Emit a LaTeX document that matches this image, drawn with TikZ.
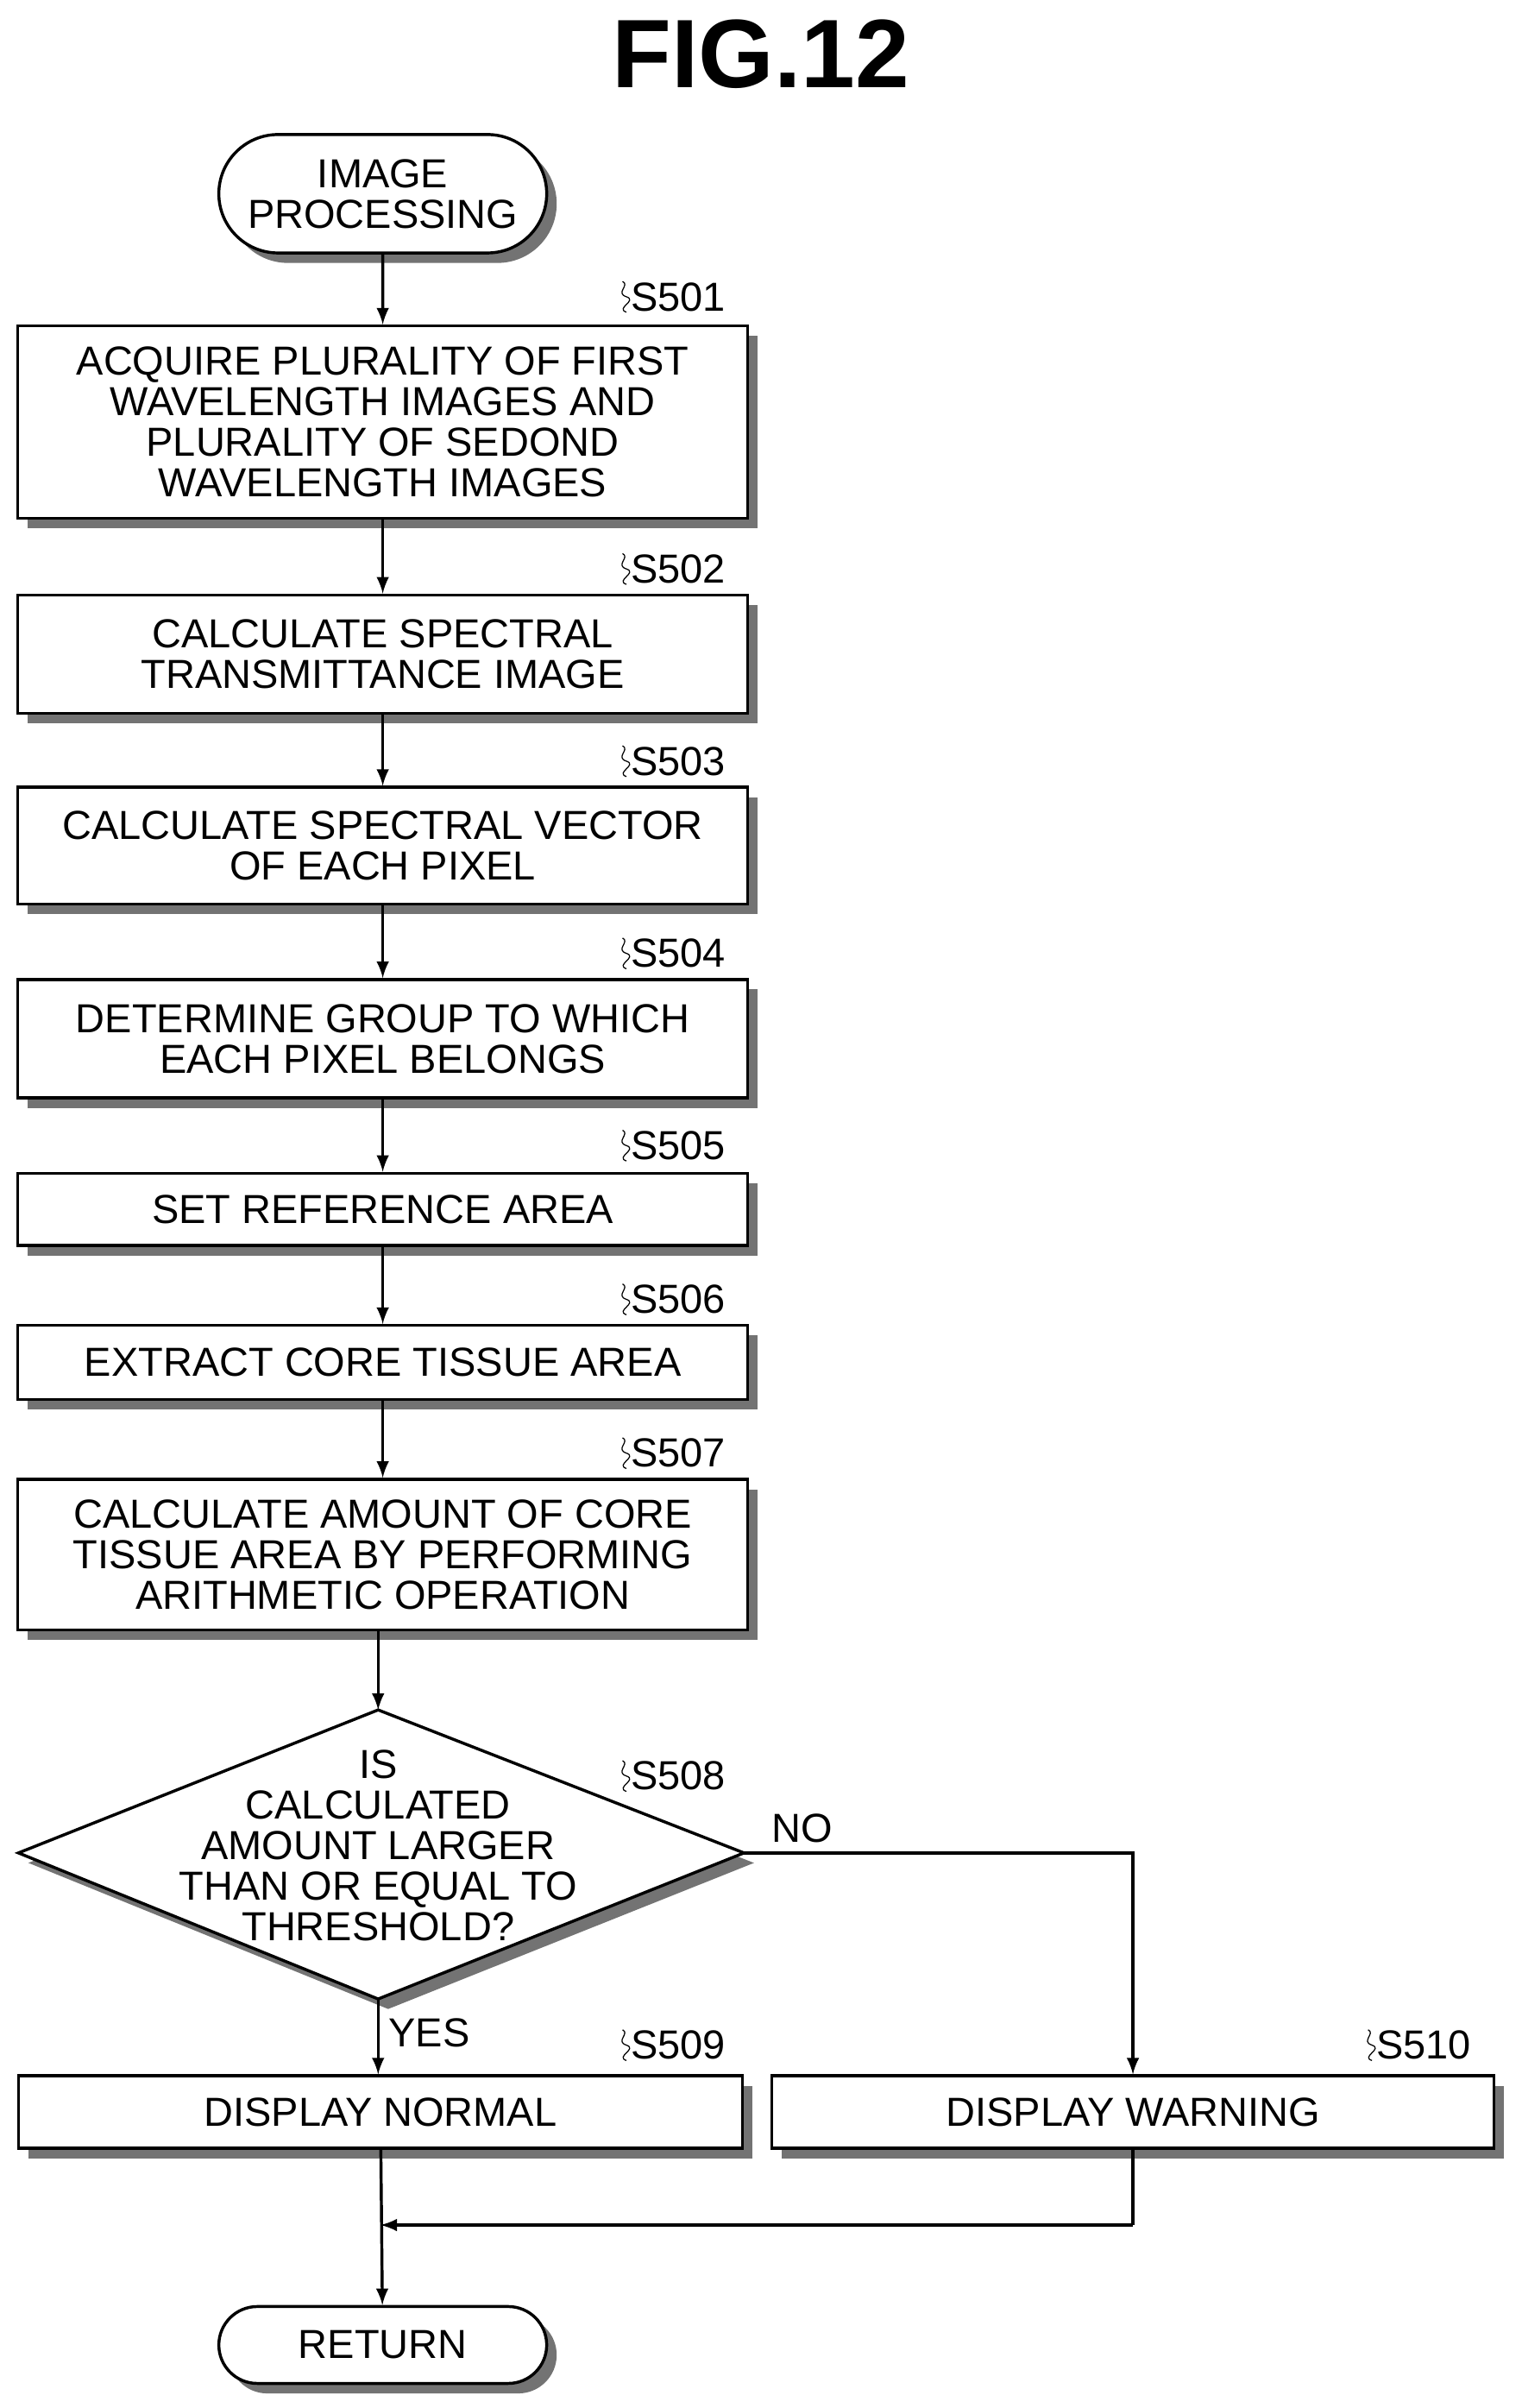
\documentclass[tikz,border=0pt]{standalone}
\usepackage{fontspec}
\setmainfont{Liberation Sans}
\usetikzlibrary{shapes.geometric,shapes.misc,shadows,calc}
\tikzset{>=latex}
\tikzset{
  boxshadow/.style={drop shadow={shadow xshift=0.13cm,shadow yshift=-0.13cm,fill=black!55,opacity=1}},
  procbox/.style={draw,line width=1.1pt,rectangle,fill=white,boxshadow,align=center,font=\fontsize{15}{15}\selectfont,inner sep=0pt},
  term/.style={draw,line width=1.1pt,rounded rectangle,fill=white,boxshadow,align=center,font=\fontsize{15}{15}\selectfont,minimum width=4.5cm},
  steplabel/.style={font=\fontsize{15}{15}\selectfont,anchor=west,inner sep=0pt},
  flow/.style={line width=1.1pt,->},
}
\newcommand{\steptag}[3]{% name, position, text
  \node[steplabel] (#1) at #2 {#3};
  \draw[thin] ($(#1.west)+(-0.05,-0.2)$) .. controls +(-0.15,0.05) and +(0.15,-0.05) .. ($(#1.west)+(-0.05,0)$)
    .. controls +(-0.15,0.05) and +(0.1,-0.05) .. ($(#1.west)+(-0.1,0.2)$);}
\begin{document}
\begin{tikzpicture}
\useasboundingbox (0,0) rectangle (19.8,-31.32);
\node[font=\bfseries\fontsize{36}{36}\selectfont] (title) at (9.9,-0.7) {FIG.12};
\node[term,minimum height=1.54cm] (start) at (4.98,-2.52) {IMAGE\\PROCESSING};
\node[procbox,minimum width=9.5cm,minimum height=2.5cm] (s501) at (4.98,-5.49) {ACQUIRE PLURALITY OF FIRST\\WAVELENGTH IMAGES AND\\PLURALITY OF SEDOND\\WAVELENGTH IMAGES};
\node[procbox,minimum width=9.5cm,minimum height=1.54cm] (s502) at (4.98,-8.51) {CALCULATE SPECTRAL\\TRANSMITTANCE IMAGE};
\node[procbox,minimum width=9.5cm,minimum height=1.52cm] (s503) at (4.98,-11.0) {CALCULATE SPECTRAL VECTOR\\OF EACH PIXEL};
\node[procbox,minimum width=9.5cm,minimum height=1.54cm] (s504) at (4.98,-13.51) {DETERMINE GROUP TO WHICH\\EACH PIXEL BELONGS};
\node[procbox,minimum width=9.5cm,minimum height=0.94cm] (s505) at (4.98,-15.73) {SET REFERENCE AREA};
\node[procbox,minimum width=9.5cm,minimum height=0.96cm] (s506) at (4.98,-17.72) {EXTRACT CORE TISSUE AREA};
\node[procbox,minimum width=9.5cm,minimum height=1.96cm] (s507) at (4.98,-20.22) {CALCULATE AMOUNT OF CORE\\TISSUE AREA BY PERFORMING\\ARITHMETIC OPERATION};
% decision
\coordinate (dtop) at (4.92,-22.24);
\coordinate (dbot) at (4.92,-26.0);
\coordinate (dleft) at (0.24,-24.1);
\coordinate (dright) at (9.68,-24.1);
\fill[black!55] ($(dtop)+(0.13,-0.13)$) -- ($(dright)+(0.13,-0.13)$) -- ($(dbot)+(0.13,-0.13)$) -- ($(dleft)+(0.13,-0.13)$) -- cycle;
\draw[line width=1.1pt,fill=white] (dtop) -- (dright) -- (dbot) -- (dleft) -- cycle;
\node[align=center,font=\fontsize{15}{15}\selectfont] (s508) at (4.92,-24.0) {IS\\CALCULATED\\AMOUNT LARGER\\THAN OR EQUAL TO\\THRESHOLD?};
\node[procbox,minimum width=9.42cm,minimum height=0.94cm] (s509) at (4.95,-27.47) {DISPLAY NORMAL};
\node[procbox,minimum width=9.4cm,minimum height=0.94cm] (s510) at (14.74,-27.47) {DISPLAY WARNING};
\node[term,minimum height=1.0cm] (ret) at (4.98,-30.5) {RETURN};
\coordinate (turn) at (14.74,-24.1);
\coordinate (back) at (14.74,-28.94);
% labels
\steptag{t501}{(8.2,-3.86)}{S501}
\steptag{t502}{(8.2,-7.4)}{S502}
\steptag{t503}{(8.2,-9.9)}{S503}
\steptag{t504}{(8.2,-12.4)}{S504}
\steptag{t505}{(8.2,-14.9)}{S505}
\steptag{t506}{(8.2,-16.9)}{S506}
\steptag{t507}{(8.2,-18.9)}{S507}
\steptag{t508}{(8.2,-23.1)}{S508}
\steptag{t509}{(8.2,-26.6)}{S509}
\steptag{t510}{(17.9,-26.6)}{S510}
% connectors
\draw[flow] (start) -- (s501);
\draw[flow] (s501) -- (s502);
\draw[flow] (s502) -- (s503);
\draw[flow] (s503) -- (s504);
\draw[flow] (s504) -- (s505);
\draw[flow] (s505) -- (s506);
\draw[flow] (s506) -- (s507);
\draw[flow] (s507.south -| dtop) -- (dtop);
\draw[flow] (dbot) -- (dbot |- s509.north) node[pos=0.45,right,font=\fontsize{15}{15}\selectfont] {YES};
\draw[flow] (dright) -- (turn) node[pos=0.15,above,font=\fontsize{15}{15}\selectfont] {NO} -- (s510);
\draw[line width=1.1pt] (s510) -- (back);
\draw[flow] (back) -- (back -| s509);
\draw[flow] (s509) -- (ret);
\end{tikzpicture}
\end{document}
